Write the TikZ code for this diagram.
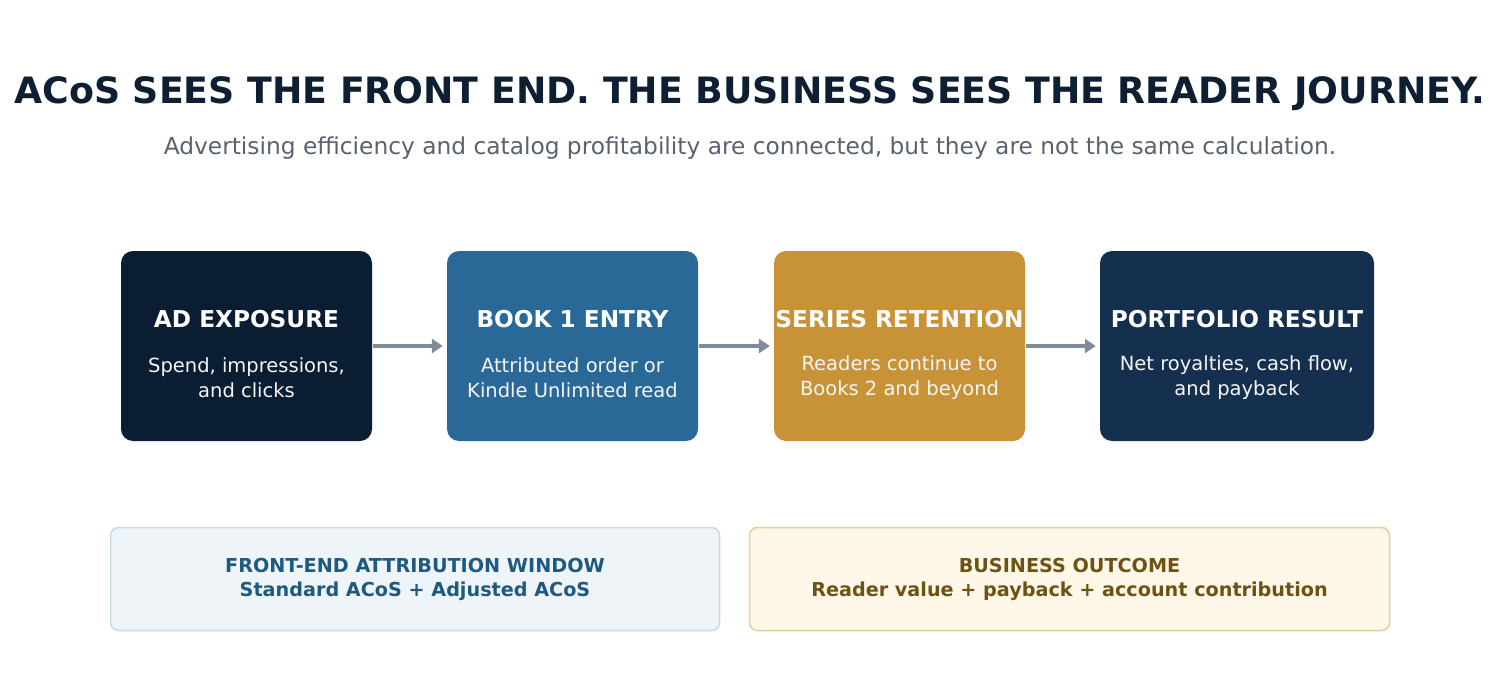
\documentclass[tikz,border=0pt]{standalone}
\usepackage{fontspec}
\setmainfont{DejaVu Sans}
\usetikzlibrary{arrows.meta}
\definecolor{c1}{HTML}{0B1D33}\definecolor{c2}{HTML}{2A6897}
\definecolor{c3}{HTML}{C89236}\definecolor{c4}{HTML}{15304F}
\definecolor{ar}{HTML}{7F8C99}\definecolor{tt}{HTML}{0F1F33}
\definecolor{st}{HTML}{5A6270}
\definecolor{lf}{HTML}{EEF4F8}\definecolor{lb}{HTML}{C9DCE8}\definecolor{lt}{HTML}{1D5A82}
\definecolor{rf}{HTML}{FFF8E8}\definecolor{rb}{HTML}{E8CF95}\definecolor{rt}{HTML}{6E5214}
\begin{document}
\begin{tikzpicture}[x=1pt,y=-1pt,
 box/.style={rounded corners=12pt,minimum height=190pt,inner sep=0pt},
 hd/.style={text=white,font=\fontsize{23.2}{27}\selectfont\bfseries},
 bd/.style={text=white!92!gray,font=\fontsize{19.5}{25}\selectfont,align=center},
 arr/.style={draw=ar,line width=3.5pt,-{Triangle[length=11pt,width=14pt]}},
 low/.style={rounded corners=8pt,line width=1.5pt,minimum height=103pt,font=\fontsize{19.2}{24}\selectfont\bfseries,align=center}]
\useasboundingbox (0,0) rectangle (1500,688);
\node[text=tt,font=\fontsize{36.3}{40}\selectfont\bfseries] (t) at (750,94) {ACoS SEES THE FRONT END. THE BUSINESS SEES THE READER JOURNEY.};
\node[text=st,font=\fontsize{23.3}{27}\selectfont] (s) at (750,148) {Advertising efficiency and catalog profitability are connected, but they are not the same calculation.};
\node[box,fill=c1,minimum width=251pt] (b1) at (246.5,346) {};
\node[box,fill=c2,minimum width=251pt] (b2) at (572.5,346) {};
\node[box,fill=c3,minimum width=251pt] (b3) at (899.5,346) {};
\node[box,fill=c4,minimum width=274pt] (b4) at (1237,346) {};
\node[hd] (h1) at (246.5,319) {AD EXPOSURE};
\node[hd] (h2) at (572.5,319) {BOOK 1 ENTRY};
\node[hd] (h3) at (899.5,319) {SERIES RETENTION};
\node[hd] (h4) at (1237,319) {PORTFOLIO RESULT};
\node[bd] (d1) at (246.5,378) {Spend, impressions,\\and clicks};
\node[bd] (d2) at (572.5,378) {Attributed order or\\Kindle Unlimited read};
\node[bd] (d3) at (899.5,378) {Readers continue to\\Books 2 and beyond};
\node[bd] (d4) at (1237,378) {Net royalties, cash flow,\\and payback};
\draw[arr] ([xshift=1pt]b1.east) -- ([xshift=-4pt]b2.west);
\draw[arr] ([xshift=1pt]b2.east) -- ([xshift=-4pt]b3.west);
\draw[arr] ([xshift=1pt]b3.east) -- ([xshift=-4pt]b4.west);
\node[low,fill=lf,draw=lb,text=lt,minimum width=609pt] (l) at (415,579) {FRONT-END ATTRIBUTION WINDOW\\Standard ACoS + Adjusted ACoS};
\node[low,fill=rf,draw=rb,text=rt,minimum width=640pt] (r) at (1069.5,579) {BUSINESS OUTCOME\\Reader value + payback + account contribution};
\end{tikzpicture}
\end{document}
